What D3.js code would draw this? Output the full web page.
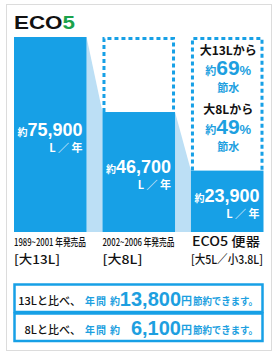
<!DOCTYPE html>
<html>
<head>
<meta charset="utf-8">
<script src="https://cdn.jsdelivr.net/npm/d3@7"></script>
<style>
  body { margin: 0; background: #fff; }
  svg { display: block; }
  text { font-family: "Noto Sans CJK JP", "Liberation Sans", sans-serif; }
  .num { font-family: "Liberation Sans", Arial, sans-serif; font-weight: bold; }
</style>
</head>
<body>
<svg id="main-svg" width="280" height="360"></svg>
<script>
// chart data
var categories = ["1989~2001 年発売品", "2002~2006 年発売品", "ECO5 便器"];
var subLabels = ["[大13L]", "[大8L]", "[大5L／小3.8L]"];
var usage = [75900, 46700, 23900];          // L per year
var savingFrom = ["大13Lから", "大8Lから"];
var savingPct = [69, 49];
var compareLabels = ["13Lと比べ、", "8Lと比べ、"];
var yenSaved = [13800, 6100];

var BLUE = "#17a0e6", LIGHT = "#bcdff5", TXTBLUE = "#1d9fe0";

var svg = d3.select('#main-svg');

// card frame
svg.append('rect')
    .attr('x', 6.5).attr('y', 4.5).attr('width', 265).attr('height', 346)
    .attr('fill', '#fff').attr('stroke', '#dcdcdc').attr('stroke-width', 1);

// title
var title = svg.append('text').attr('x', 14).attr('y', 29)
    .attr('class', 'num').attr('font-size', 19)
    .attr('textLength', 61).attr('lengthAdjust', 'spacingAndGlyphs');
title.append('tspan').attr('fill', '#111').text('ECO');
title.append('tspan').attr('fill', '#1ba24b').text('5');

var x = d3.scaleBand().domain(categories).range([14, 263.5]).paddingInner(0.18).paddingOuter(0);
var y = d3.scaleLinear().domain([0, d3.max(usage)]).range([232, 37]);
var bw = x.bandwidth();

var rows = categories.map(function(c, i) { return {cat: c, sub: subLabels[i], v: usage[i]}; });

// light connectors between bars
var conn = [];
for (var i = 0; i < rows.length - 1; ++i) conn.push([rows[i], rows[i+1]]);
svg.selectAll('path.conn').data(conn).enter().append('path')
    .attr('class', 'conn')
    .attr('fill', LIGHT)
    .attr('d', function(d) {
        var xa = x(d[0].cat) + bw, xb = x(d[1].cat);
        return 'M' + xa + ',' + y(d[0].v) + 'L' + xb + ',' + y(d[1].v) +
               'L' + xb + ',' + y(0) + 'L' + xa + ',' + y(0) + 'Z';
    });

// bars
svg.selectAll('rect.bar').data(rows).enter().append('rect')
    .attr('class', 'bar')
    .attr('x', function(d) { return x(d.cat); })
    .attr('y', function(d) { return y(d.v); })
    .attr('width', bw)
    .attr('height', function(d) { return y(0) - y(d.v); })
    .attr('fill', BLUE);

// dashed outline showing the old volume
svg.selectAll('path.ghost').data(rows.slice(1)).enter().append('path')
    .attr('class', 'ghost')
    .attr('fill', 'none').attr('stroke', BLUE).attr('stroke-width', 3)
    .attr('stroke-dasharray', '4,3')
    .attr('d', function(d) {
        var x0 = x(d.cat) + 1.5, x1 = x(d.cat) + bw - 1.5;
        return 'M' + x0 + ',' + y(d.v) + 'V' + (y(d3.max(usage)) + 1.5) +
               'H' + x1 + 'V' + y(d.v);
    });

// value labels inside bars
rows.forEach(function(d) {
    var xr = x(d.cat) + bw - 4;
    var ym = (y(d.v) + y(0)) / 2 + 1;
    var t = svg.append('text').attr('x', xr).attr('y', ym)
        .attr('text-anchor', 'end').attr('fill', '#fff');
    t.append('tspan').attr('font-size', 10).attr('font-weight', 'bold').text('約');
    t.append('tspan').attr('class', 'num').attr('font-size', 18).text(d3.format(',')(d.v));
    svg.append('text').attr('x', xr).attr('y', ym + 16)
        .attr('text-anchor', 'end').attr('fill', '#fff')
        .attr('font-size', 11).attr('font-weight', 'bold')
        .text('L ／ 年');
});

// category labels
rows.forEach(function(d, i) {
    var x0 = x(d.cat);
    svg.append('text').attr('x', x0 + (i == 2 ? 1 : 0)).attr('y', 246)
        .attr('font-size', i == 2 ? 13 : 10).attr('fill', '#111')
        .attr('font-weight', 500)
        .attr('textLength', i == 2 ? 68 : 72).attr('lengthAdjust', 'spacingAndGlyphs')
        .text(d.cat);
    svg.append('text').attr('x', x0).attr('y', 264)
        .attr('font-size', 12).attr('fill', '#111').attr('font-weight', 500)
        .attr('textLength', i == 2 ? 72 : (i == 0 ? 46 : 40)).attr('lengthAdjust', 'spacingAndGlyphs')
        .text(d.sub);
});

// saving rate notes in the ECO5 outline
var cx = x(categories[2]) + bw / 2 + 1;
savingFrom.forEach(function(s, i) {
    var y0 = 55 + i * 59;
    svg.append('text').attr('x', cx).attr('y', y0)
        .attr('text-anchor', 'middle').attr('font-size', 12).attr('font-weight', 'bold')
        .attr('fill', '#111').text(s);
    var p = svg.append('text').attr('x', cx).attr('y', y0 + 20)
        .attr('text-anchor', 'middle').attr('fill', TXTBLUE).attr('font-weight', 'bold');
    p.append('tspan').attr('font-size', 11).text('約');
    p.append('tspan').attr('class', 'num').attr('font-size', 21).text(savingPct[i]);
    p.append('tspan').attr('class', 'num').attr('font-size', 13).text('%');
    svg.append('text').attr('x', cx).attr('y', y0 + 37)
        .attr('text-anchor', 'middle').attr('font-size', 11).attr('font-weight', 'bold')
        .attr('fill', TXTBLUE).text('節水');
});

// bottom comparison boxes
compareLabels.forEach(function(s, i) {
    var by = 284.5 + i * 29;
    svg.append('rect').attr('x', 14.5).attr('y', by).attr('width', 248).attr('height', 27.5)
        .attr('fill', '#fff').attr('stroke', BLUE).attr('stroke-width', 2.5);
    var base = by + 20.5;
    svg.append('text').attr('x', 81).attr('y', base)
        .attr('text-anchor', 'end').attr('font-size', 11).attr('font-weight', 500)
        .attr('fill', '#111').text(s);
    svg.append('text').attr('x', 85).attr('y', base)
        .attr('font-size', 10).attr('font-weight', 'bold').attr('fill', TXTBLUE)
        .attr('textLength', 35).text('年間 約');
    svg.append('text').attr('x', 181).attr('y', base + 0.5)
        .attr('text-anchor', 'end').attr('class', 'num').attr('font-size', 20)
        .attr('fill', TXTBLUE).text(d3.format(',')(yenSaved[i]));
    svg.append('text').attr('x', 181).attr('y', base)
        .attr('font-size', 11).attr('font-weight', 'bold').attr('fill', TXTBLUE)
        .text('円');
    svg.append('text').attr('x', 193).attr('y', base)
        .attr('font-size', 10).attr('font-weight', 'bold').attr('fill', TXTBLUE)
        .attr('textLength', 65).attr('lengthAdjust', 'spacingAndGlyphs')
        .text('節約できます。');
});
</script>
</body>
</html>
